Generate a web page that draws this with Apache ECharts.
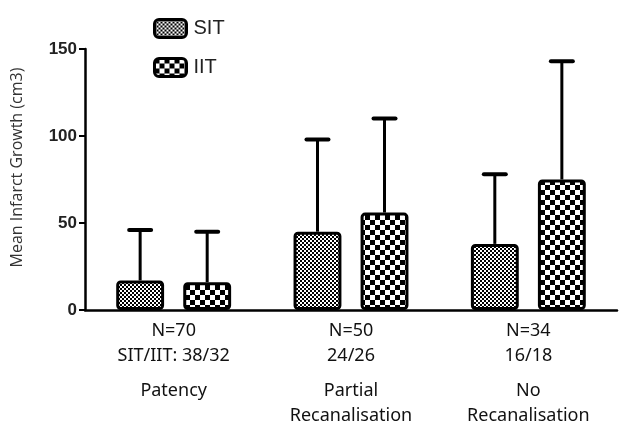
<!DOCTYPE html>
<html>
<head>
<meta charset="utf-8">
<script src="https://cdn.jsdelivr.net/npm/echarts@6/dist/echarts.min.js"></script>
<style>
  html, body { margin: 0; padding: 0; background: #fff; }
  #chart { width: 619px; height: 423px; }
</style>
</head>
<body>
<div id="chart"></div>
<script>
// data
var countLabels = ['N=70', 'N=50', 'N=34']
var splitLabels = ['SIT/IIT: 38/32', '24/26', '16/18']
var groupNames = ['Patency', 'Partial\nRecanalisation', 'No\nRecanalisation']
var sitMean = [17, 45, 38]
var sitErr = [46, 98, 78]
var iitMean = [16, 56, 75]
var iitErr = [45, 110, 143]
var yTicks = [0, 50, 100, 150]

var BAR_W = 0.27
var BAR_GAP = 0.4

// checker pattern for the bar fills
function checker (cell) {
  var c = document.createElement('canvas')
  c.width = cell * 2
  c.height = cell * 2
  var ctx = c.getContext('2d')
  ctx.fillStyle = '#fff'
  ctx.fillRect(0, 0, cell * 2, cell * 2)
  ctx.fillStyle = '#000'
  ctx.fillRect(0, 0, cell, cell)
  ctx.fillRect(cell, cell, cell, cell)
  return { image: c, repeat: 'repeat' }
}

var categories = countLabels.map(function (n, i) {
  var lines = ['{a|' + n + '}', '{a|' + splitLabels[i] + '}', '{s| }']
  groupNames[i].split('\n').forEach(function (g) { lines.push('{a|' + g + '}') })
  return lines.join('\n')
})

// error bar (upper only) for one of the two bars in each category
function errorSeries (name, means, errs, side) {
  return {
    name: name + ' err',
    type: 'custom',
    z: 5,
    data: means.map(function (m, i) { return [i, m, errs[i]] }),
    renderItem: function (params, api) {
      var band = api.size([1, 0])[0]
      var w = band * BAR_W
      var off = side * (w + w * BAR_GAP) / 2
      var base = api.coord([api.value(0), api.value(1)])
      var top = api.coord([api.value(0), api.value(2)])
      var x = base[0] + off
      return {
        type: 'group',
        children: [{
          type: 'line',
          shape: { x1: x, y1: base[1], x2: x, y2: top[1] },
          style: { stroke: '#000', lineWidth: 3 }
        }, {
          type: 'line',
          shape: { x1: x - 11, y1: top[1], x2: x + 11, y2: top[1] },
          style: { stroke: '#000', lineWidth: 4, lineCap: 'round' }
        }]
      }
    }
  }
}

var chart = echarts.init(document.getElementById('chart'))
chart.setOption({
  animation: false,
  backgroundColor: '#fff',
  legend: {
    orient: 'vertical',
    left: 148,
    top: 13,
    itemWidth: 32,
    itemHeight: 18,
    itemGap: 18,
    icon: 'roundRect',
    data: ['SIT', 'IIT'],
    itemStyle: { borderColor: '#000', borderWidth: 3 },
    textStyle: { fontFamily: 'Liberation Sans', fontSize: 20, color: '#222', padding: [0, 0, 0, 2] }
  },
  grid: { left: 85, right: 2, top: 49, bottom: 113, outerBoundsMode: 'none' },
  xAxis: {
    type: 'category',
    data: categories,
    axisLine: { lineStyle: { color: '#000', width: 2.5 } },
    axisTick: { alignWithLabel: true, length: 5, lineStyle: { color: '#000', width: 2 } },
    axisLabel: {
      margin: 8,
      interval: 0,
      rich: {
        a: { fontFamily: 'Noto Sans', fontSize: 18, color: '#111', lineHeight: 25, align: 'center' },
        s: { fontSize: 6, lineHeight: 10 }
      }
    }
  },
  yAxis: {
    type: 'value',
    min: 0,
    max: 150,
    interval: 50,
    name: 'Mean Infarct Growth (cm3)',
    nameLocation: 'middle',
    nameGap: 60,
    nameTextStyle: { fontFamily: 'Open Sans', fontSize: 16, color: '#333', padding: [0, 0, 0, 24] },
    splitLine: { show: false },
    axisLine: { show: true, lineStyle: { color: '#000', width: 2.5 } },
    axisTick: { show: true, length: 6, lineStyle: { color: '#000', width: 2 } },
    axisLabel: {
      margin: 8,
      fontFamily: 'Liberation Sans',
      fontWeight: 'bold',
      fontSize: 17,
      color: '#222',
      formatter: function (v) { return yTicks.indexOf(v) >= 0 ? String(v) : '' }
    }
  },
  series: [{
    name: 'SIT',
    type: 'bar',
    barWidth: BAR_W * 100 + '%',
    barGap: BAR_GAP * 100 + '%',
    data: sitMean,
    itemStyle: { color: checker(2), borderColor: '#000', borderWidth: 3, borderRadius: 3 }
  }, {
    name: 'IIT',
    type: 'bar',
    barWidth: BAR_W * 100 + '%',
    data: iitMean,
    itemStyle: { color: checker(5), borderColor: '#000', borderWidth: 3, borderRadius: 3 }
  },
  errorSeries('SIT', sitMean, sitErr, -1),
  errorSeries('IIT', iitMean, iitErr, 1)]
})
</script>
</body>
</html>
